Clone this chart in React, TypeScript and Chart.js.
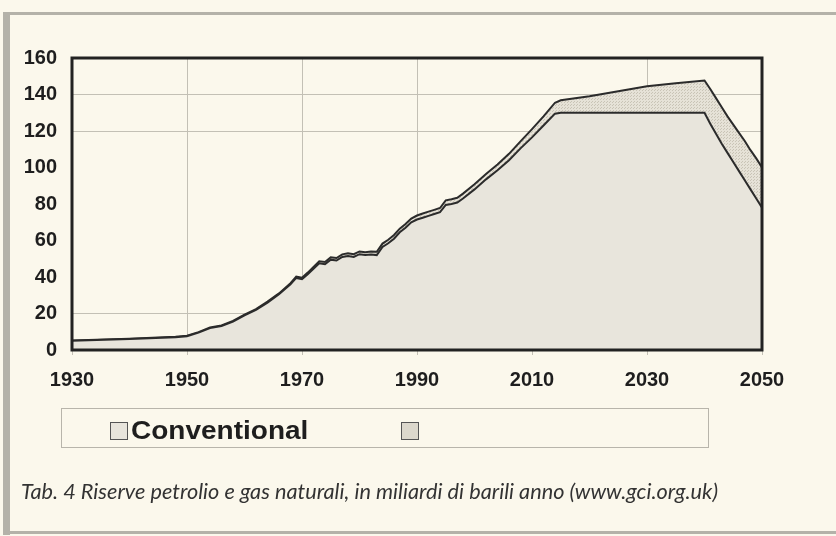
import React, { useEffect, useRef } from "react";
import { Chart, registerables } from "chart.js";

Chart.register(...registerables);

// ---- data ----
const years = [
  1930, 1940, 1948, 1950, 1952, 1954, 1956, 1958, 1960, 1962, 1964, 1966, 1968, 1969,
  1970, 1971, 1972, 1973, 1974, 1975, 1976, 1977, 1978, 1979, 1980, 1981, 1982, 1983,
  1984, 1985, 1986, 1987, 1988, 1989, 1990, 1991, 1992, 1993, 1994, 1995, 1996, 1997,
  1998, 2000, 2002, 2004, 2006, 2008, 2010, 2012, 2014, 2015, 2020, 2025, 2030, 2035,
  2040, 2041, 2042, 2043, 2044, 2045, 2046, 2047, 2048, 2049, 2050,
];

const conventional = [
  5, 6, 7, 7.5, 9.5, 12, 13.2, 15.5, 19, 22, 26, 30.5, 36, 39.5,
  38.8, 41.5, 44.5, 47.5, 47, 49.5, 49, 51, 51.5, 51, 52.5, 52, 52.3, 52,
  56.5, 58.5, 61, 64.5, 67, 70, 71.5, 72.5, 73.5, 74.5, 75.5, 79.5, 80, 80.8,
  83, 88, 93.5, 98.5, 104, 110.5, 116.5, 123, 129.5, 130, 130, 130, 130, 130,
  130, 124, 118.5, 113, 108, 103, 98, 93, 88, 83, 78,
];

const total = [
  5.2, 6.2, 7.2, 7.8, 9.8, 12.3, 13.5, 15.9, 19.4, 22.4, 26.5, 31, 36.6, 40.2,
  39.6, 42.4, 45.5, 48.6, 48.2, 50.8, 50.4, 52.4, 53, 52.5, 54, 53.6, 54, 53.8,
  58.3, 60.4, 63, 66.5, 69, 72, 73.7, 74.8, 75.8, 76.8, 77.8, 82, 82.6, 83.4,
  85.7, 90.8, 96.5, 101.7, 107.5, 114.3, 121, 128, 135.5, 136.8, 139, 141.8, 144.5, 146.2,
  147.7, 143, 138, 133, 128, 123.5, 119, 114.5, 109.5, 105, 100,
];

const seriesLabels = ["Conventional", ""];
const yearTicks = [1930, 1950, 1970, 1990, 2010, 2030, 2050];
const valueTicks = [0, 20, 40, 60, 80, 100, 120, 140, 160];
// grid lines that remain visible in the printed original
const visibleYearGrid = [1950, 1970, 1990, 2030];
const visibleValueGrid = [20, 120, 140];
const caption =
  "Tab. 4 Riserve petrolio e gas naturali, in miliardi di barili anno (www.gci.org.uk)";

// ---- styles ----
const BG = "#fbf8ec";
const AREA1 = "#e8e5dc";
const AREA2 = "#dcd8cc";
const LINE = "#2b2b2b";
const GRID = "#c3c0b5";
const FRAME = "#b4b2a9";
const TICK_FONT = { family: "'Liberation Sans', Arial, sans-serif", size: 20, weight: "bold" as const };

function makeStipple(): CanvasPattern | string {
  const c = document.createElement("canvas");
  c.width = 3;
  c.height = 3;
  const g = c.getContext("2d");
  if (!g) return AREA2;
  g.fillStyle = "#e6e2d7";
  g.fillRect(0, 0, 3, 3);
  g.fillStyle = "#c9c4b6";
  g.fillRect(0, 0, 1, 1);
  g.fillRect(1, 2, 1, 1);
  const p = g.createPattern(c, "repeat");
  return p || AREA2;
}

const plotBox = {
  id: "plotBox",
  afterDatasetsDraw(chart: any) {
    const { ctx, chartArea } = chart;
    const { left, top, right, bottom } = chartArea;
    ctx.save();
    ctx.strokeStyle = "#222";
    ctx.lineWidth = 3;
    ctx.strokeRect(left, top, right - left, bottom - top);
    ctx.restore();
  },
};

export default function App() {
  const canvasRef = useRef<HTMLCanvasElement | null>(null);
  const capRef = useRef<HTMLSpanElement | null>(null);

  useEffect(() => {
    const canvas = canvasRef.current;
    if (!canvas) return;
    const convPts = years.map((x, i) => ({ x, y: conventional[i] }));
    const totPts = years.map((x, i) => ({ x, y: total[i] }));
    const chart = new Chart(canvas, {
      type: "line",
      data: {
        datasets: [
          {
            label: seriesLabels[0],
            data: convPts,
            fill: "origin",
            backgroundColor: AREA1,
            borderColor: LINE,
            borderWidth: 2,
            pointRadius: 0,
            tension: 0,
          },
          {
            label: seriesLabels[1],
            data: totPts,
            fill: "-1",
            backgroundColor: makeStipple() as any,
            borderColor: LINE,
            borderWidth: 2,
            pointRadius: 0,
            tension: 0,
          },
        ],
      },
      options: {
        animation: false,
        responsive: false,
        devicePixelRatio: 1,
        layout: { padding: { top: 58, right: 74, left: 0, bottom: 0 } },
        plugins: {
          legend: { display: false },
          tooltip: { enabled: false },
        },
        scales: {
          x: {
            type: "linear",
            min: yearTicks[0],
            max: yearTicks[yearTicks.length - 1],
            afterBuildTicks: (s: any) => {
              s.ticks = yearTicks.map((v) => ({ value: v }));
            },
            afterFit: (s: any) => {
              s.height = 186;
            },
            grid: {
              color: (c: any) =>
                c.tick && visibleYearGrid.includes(c.tick.value) ? GRID : "rgba(0,0,0,0)",
              lineWidth: 1,
              drawTicks: true,
              tickLength: 5,
              tickColor: GRID,
            },
            border: { display: false },
            ticks: {
              font: TICK_FONT,
              color: "#1e1e1e",
              padding: 13,
              maxRotation: 0,
              callback: (v: any) => String(v),
            },
          },
          y: {
            min: valueTicks[0],
            max: valueTicks[valueTicks.length - 1],
            afterBuildTicks: (s: any) => {
              s.ticks = valueTicks.map((v) => ({ value: v }));
            },
            afterFit: (s: any) => {
              s.width = 72;
            },
            grid: {
              color: (c: any) =>
                c.tick && visibleValueGrid.includes(c.tick.value) ? GRID : "rgba(0,0,0,0)",
              lineWidth: 1,
              drawTicks: false,
            },
            border: { display: false },
            ticks: {
              font: TICK_FONT,
              color: "#1e1e1e",
              padding: 15,
              callback: (v: any) => String(v),
            },
          },
        },
      },
      plugins: [plotBox],
    });

    const cap = capRef.current;
    if (cap) {
      const w = cap.getBoundingClientRect().width;
      if (w > 0) cap.style.transform = `scaleX(${697 / w})`;
    }

    return () => chart.destroy();
  }, []);

  const sq: React.CSSProperties = {
    position: "absolute",
    width: 16,
    height: 16,
    background: AREA1,
    border: "1px solid #555",
  };

  return (
    <div
      style={{
        position: "fixed",
        left: 0,
        top: 0,
        width: 836,
        height: 536,
        background: BG,
        overflow: "hidden",
      }}
    >
      <canvas ref={canvasRef} width={836} height={536} style={{ position: "absolute", left: 0, top: 0 }} />
      {/* scan frame */}
      <div style={{ position: "absolute", left: 3, top: 12, width: 833, height: 3, background: FRAME }} />
      <div style={{ position: "absolute", left: 3, top: 12, width: 7, height: 523, background: FRAME }} />
      <div style={{ position: "absolute", left: 3, top: 531, width: 833, height: 3, background: FRAME }} />
      {/* legend */}
      <div
        style={{
          position: "absolute",
          left: 61,
          top: 408,
          width: 646,
          height: 38,
          border: "1px solid #b8b5ab",
        }}
      />
      <div style={{ ...sq, left: 110, top: 422 }} />
      <div
        style={{
          position: "absolute",
          left: 131,
          top: 415,
          fontFamily: "'Liberation Sans', Arial, sans-serif",
          fontWeight: "bold",
          fontSize: 25,
          lineHeight: "30px",
          color: "#1e1e1e",
          transform: "scaleX(1.12)",
          transformOrigin: "left center",
          whiteSpace: "nowrap",
        }}
      >
        {seriesLabels[0]}
      </div>
      <div style={{ ...sq, left: 401, top: 422, background: AREA2 }} />
      {/* caption */}
      <span
        ref={capRef}
        style={{
          position: "absolute",
          left: 21,
          top: 478,
          fontFamily: "Lato, 'Open Sans', sans-serif",
          fontStyle: "italic",
          fontSize: 21,
          lineHeight: "26px",
          color: "#333",
          whiteSpace: "nowrap",
          transformOrigin: "left center",
          display: "inline-block",
        }}
      >
        {caption}
      </span>
    </div>
  );
}
